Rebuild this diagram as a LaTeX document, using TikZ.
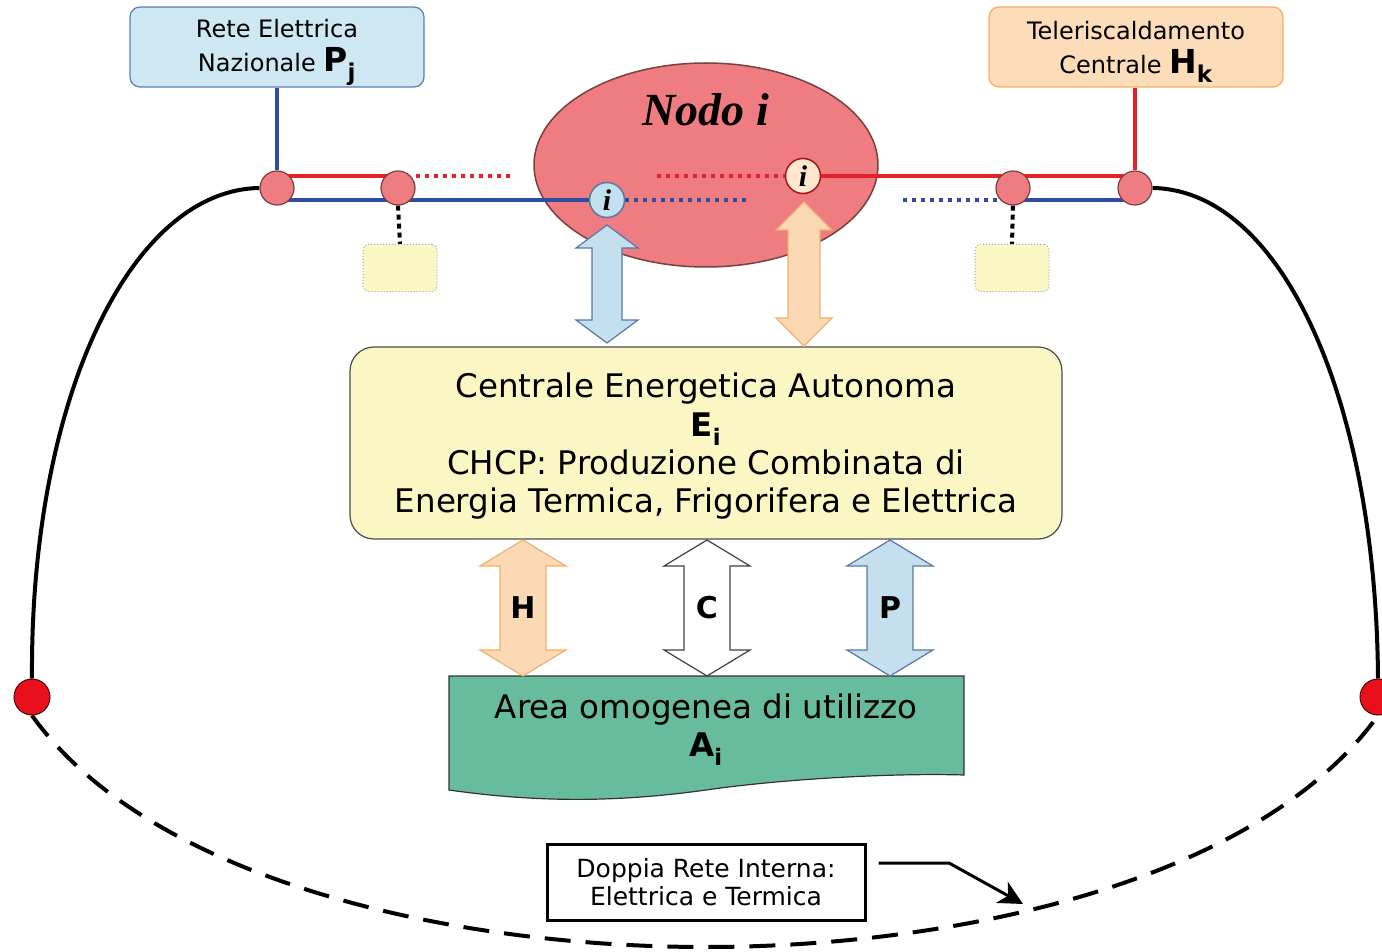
\documentclass[tikz,border=0pt]{standalone}
\usepackage{fontspec}
\setmainfont{DejaVu Sans}
\newfontfamily\nodofont{Liberation Serif}
\usetikzlibrary{shapes.geometric,arrows.meta,backgrounds}
\definecolor{boxblue}{HTML}{CDE8F2}
\definecolor{boxblueb}{HTML}{5B7FB0}
\definecolor{boxpeach}{HTML}{FDDCBA}
\definecolor{boxpeachb}{HTML}{F0B060}
\definecolor{nodored}{HTML}{EE7C80}
\definecolor{nodoredb}{HTML}{7A4040}
\definecolor{linered}{HTML}{E8202A}
\definecolor{lineblue}{HTML}{2E4DA0}
\definecolor{dotred}{HTML}{E8101A}
\definecolor{yellowbox}{HTML}{FBF7C4}
\definecolor{greenbox}{HTML}{66BC9C}
\definecolor{arrblue}{HTML}{C4E0EE}
\definecolor{arrblueb}{HTML}{5878A8}
\definecolor{arrpeach}{HTML}{FCD9B5}
\definecolor{arrpeachb}{HTML}{F0B070}
\newcommand\dblarw[7]{%
 \draw[#7] (#1,#2) -- ({#1+#5},{#2+#6}) -- ({#1+#4},{#2+#6}) -- ({#1+#4},{#3-#6}) -- ({#1+#5},{#3-#6}) -- (#1,#3) -- ({#1-#5},{#3-#6}) -- ({#1-#4},{#3-#6}) -- ({#1-#4},{#2+#6}) -- ({#1-#5},{#2+#6}) -- cycle;}
\tikzset{
  topbox/.style={rounded corners=10pt, line width=1.2pt, minimum width=294pt, minimum height=80pt},
  toptext/.style={align=center, font=\fontsize{24}{34}\selectfont},
  junction/.style={circle, fill=nodored, draw=nodoredb, line width=1.2pt, minimum size=34pt, inner sep=0pt},
  inode/.style={circle, line width=1.5pt, minimum size=35pt, inner sep=0pt, font=\nodofont\bfseries\itshape\fontsize{30}{30}\selectfont},
  smallbox/.style={rounded corners=5pt, fill=yellowbox, draw=black!35, dotted, line width=1pt, minimum width=74pt, minimum height=47pt},
  redline/.style={linered, line width=3.5pt},
  blueline/.style={lineblue, line width=3.5pt},
  reddot/.style={linered, line width=3.5pt, dash pattern=on 4pt off 5pt},
  bluedot/.style={lineblue, line width=3.5pt, dash pattern=on 4pt off 5pt},
  blackdot/.style={black, line width=4pt, dash pattern=on 5pt off 4pt},
  enddot/.style={circle, fill=dotred, draw=black!70!red, line width=1pt, minimum size=36pt, inner sep=0pt},
  mainfont/.style={font=\fontsize{32.5}{38}\selectfont},
  arrlabel/.style={font=\bfseries\fontsize{30}{30}\selectfont},
}
\begin{document}
\begin{tikzpicture}[x=1pt,y=-1pt]
\useasboundingbox (0,0) rectangle (1382,952);
% top boxes
\node[topbox, fill=boxblue, draw=boxblueb] (rete) at (277,47) {};
\node[toptext] (retet) at (277,52) {Rete Elettrica\\Nazionale \textbf{\fontsize{33}{33}\selectfont P\textsubscript{j}}};
\node[topbox, fill=boxpeach, draw=boxpeachb] (tele) at (1136,47) {};
\node[toptext] (telet) at (1136,52) {Teleriscaldamento\\Centrale \textbf{\fontsize{33}{33}\selectfont H\textsubscript{k}}};
% junctions
\node[junction] (L1) at (277,188) {};
\node[junction] (L2) at (398,188) {};
\node[junction] (R1) at (1013,188) {};
\node[junction] (R2) at (1135,188) {};
\node[inode, fill=arrblue, draw=arrblueb] (ib) at (607,200) {i};
\node[inode, fill=boxpeach!70!white, draw=linered!70!black] (ip) at (803,176) {i};
% small boxes
\node[smallbox] (sL) at (400,268) {};
\node[smallbox] (sR) at (1012,268) {};
% end dots
\node[enddot] (dL) at (32,697) {};
\node[enddot] (dR) at (1378,697) {};
% main box
\node[rounded corners=24pt, fill=yellowbox, draw=black!70, line width=1.2pt, minimum width=712pt, minimum height=192pt] (E) at (706,443) {};
\node[align=center, mainfont] (Et) at (706,446) {Centrale Energetica Autonoma\\[1pt]\textbf{E\textsubscript{i}}\\CHCP: Produzione Combinata di\\Energia Termica, Frigorifera e Elettrica};
% green area
\coordinate (gTL) at (449,676);
\coordinate (gTR) at (964,676);
\draw[fill=greenbox, draw=black!80, line width=1.2pt] (gTL) -- (gTR) -- (964,775) .. controls (900,773) and (790,778) .. (706,790) .. controls (620,802) and (540,803) .. (449,790) -- cycle;
\node[mainfont, align=center] (A) at (706,730) {Area omogenea di utilizzo\\\textbf{A\textsubscript{i}}};
% label box
\node[draw=black, line width=3pt, fill=white, minimum width=318pt, minimum height=76pt, align=center, font=\fontsize{25}{28}\selectfont] (lab) at (706,882) {Doppia Rete Interna:\\Elettrica e Termica};
\coordinate (labk) at (949,863);
\coordinate (labtip) at (1023,904);
\draw[line width=3pt, -{Stealth[length=24pt,width=24pt,inset=7pt]}] (lab.east |- labk) ++(12,0) -- (labk) -- (labtip);
% background: ellipse, lines, curves
\begin{scope}[on background layer]
\node[ellipse, fill=nodored, draw=nodoredb, line width=1.5pt, minimum width=344pt, minimum height=204pt] (nodo) at (706,165) {};
\node[font=\nodofont\bfseries\itshape\fontsize{46}{46}\selectfont] (nodot) at (706,110) {Nodo i};
\draw[blueline] (rete.south -| L1) -- (L1);
\draw[redline] (tele.south -| R2) -- (R2);
\draw[redline] ([yshift=12pt]L1.center) -- ([yshift=12pt]L2.center);
\draw[blueline] ([yshift=-12pt]L1.center) -- ([yshift=-12pt]L2.center) -- (ib);
\draw[reddot] ([yshift=12pt]L2.east) -- ++(97,0);
\draw[bluedot] (ib) -- (750,200);
\draw[reddot] (657,176) -- (ip);
\draw[redline] (ip) -- ([yshift=12pt]R1.center) -- ([yshift=12pt]R2.center);
\draw[bluedot] (903,200) -- ([yshift=-12pt]R1.center);
\draw[blueline] ([yshift=-12pt]R1.center) -- ([yshift=-12pt]R2.center);
\draw[blackdot] (L2.south) -- (sL.north);
\draw[blackdot] (R1.south) -- (sR.north);
\draw[line width=4pt] (L1.west) .. controls (130,190) and (30,400) .. (dL.north);
\draw[line width=4pt] (R2.east) .. controls (1282,190) and (1376,400) .. (dR.north);
\draw[line width=4pt, dash pattern=on 26pt off 15pt] (dL.south) .. controls (150,880) and (450,947) .. (706,947) .. controls (960,947) and (1260,880) .. (dR.south);
\end{scope}
% double arrows
\dblarw{607}{225}{343}{15}{31}{23}{fill=arrblue, draw=arrblueb, line width=1.2pt}
\dblarw{804}{202}{346}{16}{28}{28}{fill=arrpeach, draw=arrpeachb, line width=1.2pt}
\dblarw{523}{540}{676}{23}{43}{26}{fill=arrpeach, draw=arrpeachb, line width=1.2pt}
\dblarw{707}{540}{676}{23}{43}{26}{fill=white, draw=black!75, line width=1.2pt}
\dblarw{890}{540}{676}{23}{43}{26}{fill=arrblue, draw=arrblueb, line width=1.2pt}
\node[arrlabel] (H) at (523,608) {H};
\node[arrlabel] (C) at (707,608) {C};
\node[arrlabel] (P) at (890,608) {P};
\end{tikzpicture}
\end{document}
